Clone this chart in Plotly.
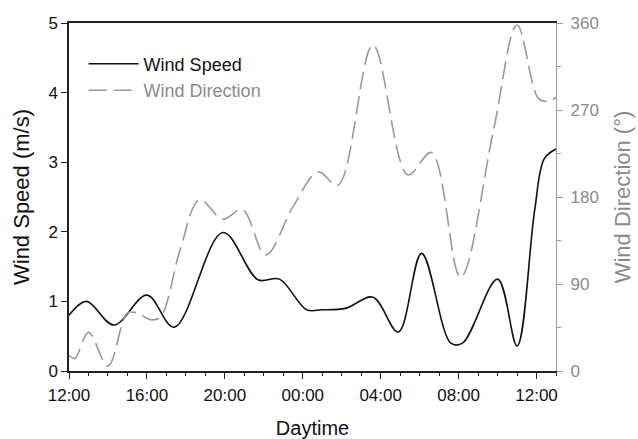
import plotly.graph_objects as go

# Hours elapsed since 12:00 on the first day
speed_hours = [0, 0.9, 2.3, 4.0, 5.4, 7.9, 9.7, 10.8, 12.2, 13.0, 14.2,
               15.6, 16.9, 18.1, 19.6, 20.2, 22.0, 23.0, 23.9, 24.4, 25.0]
wind_speed = [0.80, 1.00, 0.66, 1.09, 0.63, 1.99, 1.31, 1.32, 0.88, 0.88, 0.90,
              1.06, 0.56, 1.69, 0.40, 0.40, 1.32, 0.36, 2.30, 3.05, 3.19]

dir_hours = [0, 0.3, 1.0, 2.0, 3.0, 3.5, 4.2, 4.7, 5.7, 6.7, 7.9, 8.9, 10.1, 11.5,
             12.8, 13.8, 15.6, 17.4, 18.6, 20.1, 21.8, 23.0, 24.1, 24.6, 25.0]
wind_direction = [16, 13, 40, 5, 60, 60, 53, 56, 125, 177, 157, 167, 120, 170,
                  206, 192, 337, 203, 226, 97, 250, 358, 282, 279, 283]

tick_hours = [0, 4, 8, 12, 16, 20, 24]
tick_labels = ["12:00", "16:00", "20:00", "00:00", "04:00", "08:00", "12:00"]

FONT = "Arial, Liberation Sans, sans-serif"
GREY = "#9a9a9a"
GREY_TEXT = "#8a8a8a"

fig = go.Figure()
fig.add_trace(go.Scatter(
    x=speed_hours, y=wind_speed, mode="lines", name="Wind Speed",
    line=dict(color="#111111", width=1.6, shape="spline", smoothing=1.0),
))
fig.add_trace(go.Scatter(
    x=dir_hours, y=wind_direction, mode="lines", yaxis="y2",
    name=f"<span style='color:{GREY_TEXT}'>Wind Direction</span>",
    line=dict(color=GREY, width=1.6, dash="18px,7px", shape="spline", smoothing=1.0),
))

fig.update_layout(
    width=638, height=439,
    margin=dict(l=69, r=82, t=23, b=68, autoexpand=False),
    paper_bgcolor="white", plot_bgcolor="white",
    font=dict(family=FONT, size=17, color="#111111"),
    showlegend=True,
    legend=dict(x=0.03, y=0.935, xanchor="left", yanchor="top",
                bgcolor="rgba(0,0,0,0)", font=dict(size=18), itemwidth=50,
                tracegroupgap=0),
    xaxis=dict(
        range=[0, 25], tickvals=tick_hours, ticktext=tick_labels,
        showgrid=False, zeroline=False, automargin=False,
        showline=True, linecolor="#222222", linewidth=1.5, mirror=True,
        ticks="outside", ticklen=6, tickcolor="#222222", tickwidth=1.3,
        ticklabelstandoff=2,
        minor=dict(dtick=1, ticks="outside", ticklen=3, tickcolor="#222222", tickwidth=1.2),
        title=dict(text="Daytime", font=dict(size=20), standoff=22),
    ),
    yaxis=dict(
        range=[0, 5], dtick=1, showgrid=False, zeroline=False, automargin=False,
        showline=True, linecolor="#222222", linewidth=1.5,
        ticks="outside", ticklen=6, tickcolor="#222222", tickwidth=1.3,
        title=dict(text="Wind Speed (m/s)", font=dict(size=22), standoff=13),
    ),
    yaxis2=dict(
        range=[0, 360], dtick=90, overlaying="y", side="right",
        showgrid=False, zeroline=False, automargin=False,
        showline=True, linecolor=GREY, linewidth=1.3,
        ticks="outside", ticklen=6, tickcolor=GREY, tickwidth=1.2,
        ticklabelstandoff=4,
        tickfont=dict(color=GREY_TEXT),
        minor=dict(dtick=45, ticks="outside", ticklen=4, tickcolor=GREY, tickwidth=1.0),
        title=dict(text="Wind Direction (°)", font=dict(size=22, color=GREY_TEXT), standoff=16),
    ),
)

fig.write_html("out.html")
